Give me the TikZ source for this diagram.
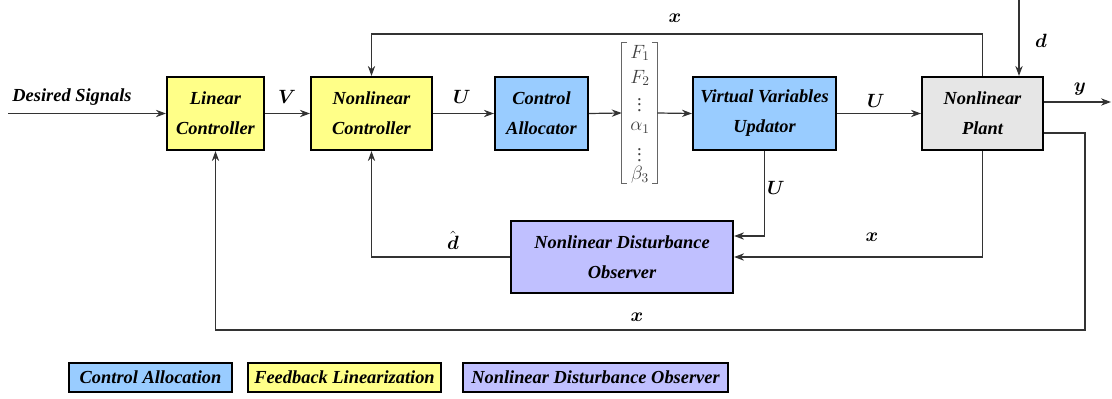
\documentclass[tikz,border=0pt]{standalone}
\usepackage{amsmath}
\usepackage{fontspec}
\setmainfont{Liberation Serif}
\usetikzlibrary{arrows.meta,calc}
\definecolor{cablue}{HTML}{99CCFF}
\definecolor{flyellow}{HTML}{FFFF88}
\definecolor{ndolav}{HTML}{C0C0FF}
\definecolor{plantgray}{HTML}{E6E6E6}
\definecolor{linec}{HTML}{333333}
\begin{document}
\begin{tikzpicture}[x=0.75pt,y=-0.75pt,
  blk/.style={draw=black,line width=1.6pt,align=center,inner sep=0pt,
    font=\fontsize{13.8}{22.5}\selectfont\bfseries\itshape},
  leg/.style={draw=black,line width=1.4pt,inner sep=0pt,minimum height=21.75pt,
    font=\fontsize{13.8}{16}\selectfont\bfseries\itshape},
  arr/.style={draw=linec,line width=0.9pt,-{Stealth[length=7.5pt,width=5.5pt]}},
  lab/.style={font=\fontsize{13.8}{16}\selectfont\bfseries\itshape,inner sep=0pt},
  ent/.style={text=black!75,font=\fontsize{14}{16}\selectfont,inner sep=0pt}]
\useasboundingbox (0,0) rectangle (1112,399);
% blocks
\node[blk,fill=flyellow,minimum width=72.75pt,minimum height=54.75pt] (LC) at (215.5,113.5) {Linear\\Controller};
\node[blk,fill=flyellow,minimum width=90.75pt,minimum height=54.75pt] (NC) at (371.5,113.5) {Nonlinear\\Controller};
\node[blk,fill=cablue,minimum width=69.75pt,minimum height=54.75pt] (CA) at (541.5,113.5) {Control\\Allocator};
\node[blk,fill=cablue,minimum width=107.25pt,minimum height=54.75pt] (VVU) at (764.5,113.5) {Virtual Variables\\Updator};
\node[blk,fill=plantgray,minimum width=90.75pt,minimum height=54.75pt] (P) at (982.5,113.5) {Nonlinear\\Plant};
\node[blk,fill=ndolav,minimum width=166.5pt,minimum height=54pt] (NDO) at (622,257) {Nonlinear Disturbance\\Observer};
% matrix
\node[minimum width=26.25pt,minimum height=105pt,inner sep=0pt] (M) at (639.5,113) {};
\draw[black!60,line width=0.6pt] ([xshift=4pt]M.north west) -- (M.north west) -- (M.south west) -- ([xshift=4pt]M.south west);
\draw[black!60,line width=0.6pt] ([xshift=-4pt]M.north east) -- (M.north east) -- (M.south east) -- ([xshift=-4pt]M.south east);
\node[ent] (m1) at (640,53) {$F_1$};
\node[ent] (m2) at (640,78) {$F_2$};
\node[ent] (m3) at (639.5,101) {$\vdots$};
\node[ent] (m4) at (640,128) {$\alpha_1$};
\node[ent] (m5) at (639.5,151) {$\vdots$};
\node[ent] (m6) at (640,175) {$\beta_3$};
% coordinates
\coordinate (ds) at (8,113.5);
\coordinate (dtop) at (1019,0);
\coordinate (yend) at (1111,102);
\coordinate (tfb) at (0,34);
\coordinate (pr) at (1085,133);
\coordinate (bfb) at (1085,330);
\coordinate (uy) at (0,236);
% connectors
\draw[arr] (ds) -- (LC.west);
\draw[arr] (LC.east) -- (NC.west);
\draw[arr] (NC.east) -- (CA.west);
\draw[arr] (CA.east) -- (M.west);
\draw[arr] (M.east) -- (VVU.west);
\draw[arr] (VVU.east) -- (P.west);
\draw[arr] (dtop) -- (dtop |- P.north);
\draw[arr] (P.east |- yend) -- (yend);
\draw[arr] (P.north) |- (NC.north |- tfb) -- (NC.north);
\draw[arr] (P.east |- pr) -- (pr) -- (bfb) -| (LC.south);
\draw[arr] (P.south) |- (NDO.east);
\draw[arr] (VVU.south) |- (NDO.east |- uy);
\draw[arr] (NDO.west) -| (NC.south);
% labels
\node[lab] (lds) at (72,97) {Desired Signals};
\node[lab] (lV) at (287,97) {$\boldsymbol{V}$};
\node[lab] (lU1) at (462,97) {$\boldsymbol{U}$};
\node[lab] (lU2) at (876,101) {$\boldsymbol{U}$};
\node[lab] (ly) at (1080,89) {$\boldsymbol{y}$};
\node[lab] (ld) at (1041,41) {$\boldsymbol{d}$};
\node[lab] (lx1) at (675,18) {$\boldsymbol{x}$};
\node[lab] (lU3) at (776,188) {$\boldsymbol{U}$};
\node[lab] (lx2) at (872,237) {$\boldsymbol{x}$};
\node[lab] (ldh) at (453,240) {$\hat{\boldsymbol{d}}$};
\node[lab] (lx3) at (637,317) {$\boldsymbol{x}$};
% legend
\node[leg,fill=cablue,minimum width=122.25pt] (L1) at (150.5,377.5) {Control Allocation};
\node[leg,fill=flyellow,minimum width=144.75pt] (L2) at (344.5,377.5) {Feedback Linearization};
\node[leg,fill=ndolav,minimum width=198.75pt] (L3) at (595.5,377.5) {Nonlinear Disturbance Observer};
\end{tikzpicture}
\end{document}
